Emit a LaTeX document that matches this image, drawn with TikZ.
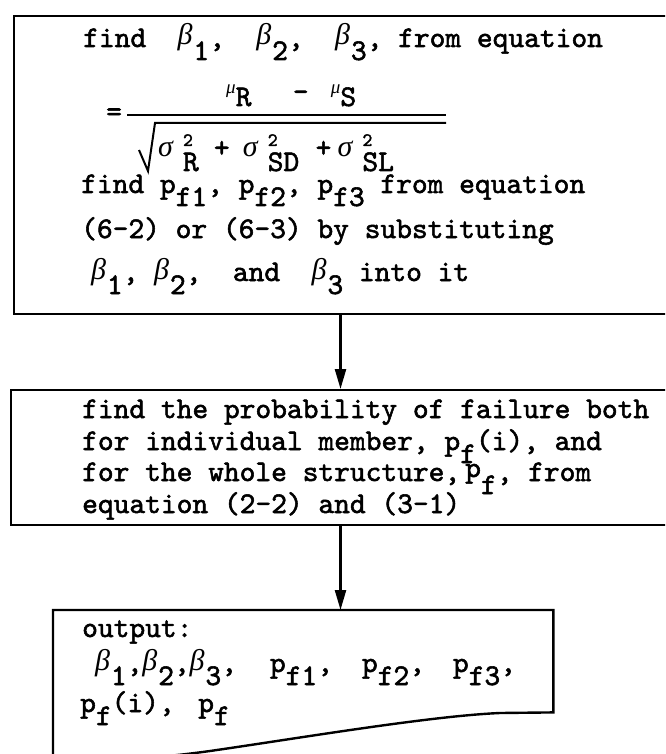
\documentclass[tikz,border=0pt]{standalone}
\usepackage{fontspec}
\usetikzlibrary{arrows.meta,positioning}
\newfontfamily\tyfam{lmmono10-regular.otf}[FakeBold=1.8]
\newfontfamily\grkfam{Liberation Serif}
\tikzset{
  box/.style={draw,line width=2.4pt,inner sep=0pt,anchor=north west},
  txt/.style={anchor=base west,inner sep=0pt},
  flow/.style={line width=2.4pt,-{Triangle[length=20pt,width=11pt]}},
  rule/.style={line width=2pt},
}
\newcommand\tyfont{\tyfam\fontsize{30}{36}\selectfont}
\newcommand\grk[1]{{\grkfam\itshape #1}}
\newcommand\dnsub[1]{\raisebox{-13pt}{#1}}
\newcommand\betsub[1]{\makebox[15.75pt][l]{\raisebox{2pt}{\grk{β}}}\dnsub{#1}}
\newcommand\pfsub[1]{p\dnsub{f#1}}
\newcommand\smallmu{\raisebox{12pt}{\grkfam\itshape\fontsize{19}{19}\selectfont μ}}
\newcommand\sigsq[1]{\grk{σ}\hspace{10pt}\rlap{\raisebox{11pt}{\fontsize{19}{19}\selectfont 2}}\raisebox{-14pt}{#1}}

\begin{document}
\begin{tikzpicture}[x=1pt,y=-1pt,font=\tyfont]
\useasboundingbox (0,0) rectangle (665,754);
\clip (0,0) rectangle (665,754);

% the three boxes
\node[box,minimum width=662pt,minimum height=298pt] (beta) at (13,15) {};
\node[box,minimum width=665pt,minimum height=135pt] (prob) at (10,389) {};
\node[inner sep=0pt,anchor=north west,minimum width=500pt,minimum height=102pt] (out) at (53,610) {};
\draw[line width=2.4pt] (out.south east) -- (out.north east) -- (out.north west) -- (53,762)
  .. controls (110,761) and (160,758) .. (210,751)
  .. controls (300,738) and (430,716) .. (500,713) -- cycle;

% box 1
\node[txt] (b1) at (83,47) {find\ \ \betsub{1},\ \ \betsub{2},\ \ \betsub{3}, from equation};
\node[txt] (eq) at (106,121) {=};
\node[txt] (num) at (226,106) {\smallmu R\hspace{41.4pt}\raisebox{5pt}{-}\hspace{22.25pt}\smallmu S};
\draw[rule] (127,115) -- (446,115);
\draw[rule] (139,150) -- (148,171) -- (155,123) -- (446,123);
\node[txt] (den) at (158,157) {\sigsq{R}\hspace{15.2pt}+\hspace{13.25pt}\sigsq{SD}\hspace{16.4pt}+\hspace{6.25pt}\sigsq{SL}};
\node[txt] (b2) at (81,193) {find \pfsub{1}, \pfsub{2}, \pfsub{3} from equation};
\node[txt] (b3) at (81,238) {(6-2) or (6-3) by substituting};
\node[txt] (b4) at (91,281) {\betsub{1}, \betsub{2},\ \ and\ \ \betsub{3} into it};

% box 2
\node[txt] (p1) at (82,418) {find the probability of failure both};
\node[txt] (p2) at (82,450) {for individual member, \pfsub{}(i), and};
\node[txt] (p3) at (82,481) {for the whole structure,\hspace{5pt}\raisebox{4pt}{p}\dnsub{f}, from};
\node[txt] (p4) at (82,513) {equation (2-2) and (3-1)};

% box 3
\node[txt] (o1) at (82,637) {output:};
\node[txt] (o2) at (95,672) {\betsub{1},\betsub{2},\betsub{3},\hspace{33pt}\pfsub{1},\hspace{29pt}\pfsub{2},\hspace{28pt}\pfsub{3},};
\node[txt] (o3) at (80,712) {\pfsub{}(i),\hspace{23.6pt}\pfsub{}};

% flow
\coordinate (spine) at (340.5,0);
\draw[flow] (beta.south -| spine) -- (prob.north -| spine);
\draw[flow] (prob.south -| spine) -- (out.north -| spine);
\end{tikzpicture}
\end{document}
